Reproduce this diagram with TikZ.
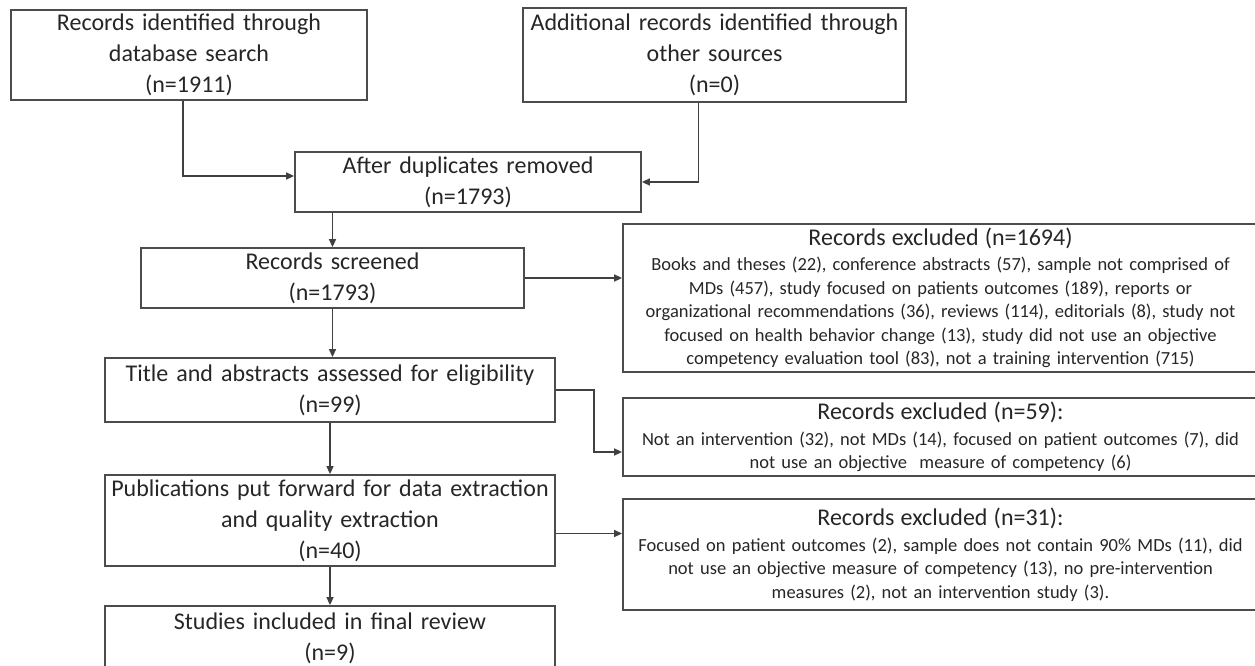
\documentclass[tikz,border=0pt]{standalone}
\usepackage{fontspec}
\setmainfont{Carlito}
\usetikzlibrary{arrows.meta}

\begin{document}
\begin{tikzpicture}[x=1pt,y=-1pt,
    flowbox/.style={draw=black!70, line width=1.8pt, inner sep=0pt,
      align=center, text=black!85, font=\fontsize{24}{31}\selectfont},
    exclbox/.style={flowbox, font=\fontsize{18.5}{23.5}\selectfont},
    flowline/.style={draw=black!75, line width=1.5pt,
      -{Triangle[length=8pt,width=7pt]}}]
    \useasboundingbox (0,0) rectangle (1255,666);

    % Identification
    \node[flowbox, text width=356pt, minimum height=90pt] (search) at (189,55)
      {Records identified through\\ database search\\ (n=1911)};
    \node[flowbox, text width=383pt, minimum height=94pt] (other) at (714.5,55)
      {Additional records identified through\\ other sources\\ (n=0)};
    \node[flowbox, text width=346pt, minimum height=60pt] (dedup) at (468,182)
      {After duplicates removed\\ (n=1793)};

    % Screening and eligibility
    \node[flowbox, text width=383pt, minimum height=60pt] (screen) at (332.5,278)
      {Records screened\\ (n=1793)};
    \node[flowbox, text width=450pt, minimum height=64pt] (assess) at (330,390)
      {Title and abstracts assessed for eligibility\\ (n=99)};
    \node[flowbox, text width=450pt, minimum height=91pt] (pubs) at (330,520.5)
      {Publications put forward for data extraction\\ and quality extraction\\ (n=40)};
    \node[flowbox, text width=450pt, minimum height=64pt] (final) at (330,638)
      {Studies included in final review\\ (n=9)};

    % Exclusions
    % (right edges run off the page)
    \node[exclbox, text width=635pt, minimum height=148pt] (exclA) at (940.5,298)
      {{\fontsize{24}{27}\selectfont Records excluded (n=1694)\par}\vspace{2pt}
       Books and theses (22), conference abstracts (57), sample not comprised of\\
       MDs (457), study focused on patients outcomes (189), reports or\\
       organizational recommendations (36), reviews (114), editorials (8), study not\\
       focused on health behavior change (13), study did not use an objective\\
       competency evaluation tool (83), not a training intervention (715)};
    \node[exclbox, text width=635pt, minimum height=78pt] (exclB) at (940.5,437)
      {{\fontsize{24}{27}\selectfont Records excluded (n=59):\par}\vspace{2pt}
       Not an intervention (32), not MDs (14), focused on patient outcomes (7), did\\
       not use an objective\ \ measure of competency (6)};
    \node[exclbox, text width=635pt, minimum height=111pt] (exclC) at (940.5,554.5)
      {{\fontsize{24}{27}\selectfont Records excluded (n=31):\par}\vspace{2pt}
       Focused on patient outcomes (2), sample does not contain 90\% MDs (11), did\\
       not use an objective measure of competency (13), no pre-intervention\\
       measures (2), not an intervention study (3).};

    % Connectors
    \draw[flowline] ([xshift=-6pt]search.south) |- ([yshift=6pt]dedup.west);
    \draw[flowline] ([xshift=-16pt]other.south) |- (dedup.east);
    \draw[flowline] (dedup.south -| screen.north) -- (screen.north);
    \draw[flowline] (screen.south) -- (screen.south |- assess.north);
    \draw[flowline] (assess.south) -- (assess.south |- pubs.north);
    \draw[flowline] (pubs.south) -- (pubs.south |- final.north);

    \draw[flowline] (screen.east) -- (screen.east -| exclA.west);
    \draw[flowline] (assess.east) -- ++(38,0) |- ([yshift=-15pt]exclB.west);
    \draw[flowline] ([yshift=-13pt]pubs.east) -- ([yshift=-13pt]pubs.east -| exclC.west);
\end{tikzpicture}
\end{document}
